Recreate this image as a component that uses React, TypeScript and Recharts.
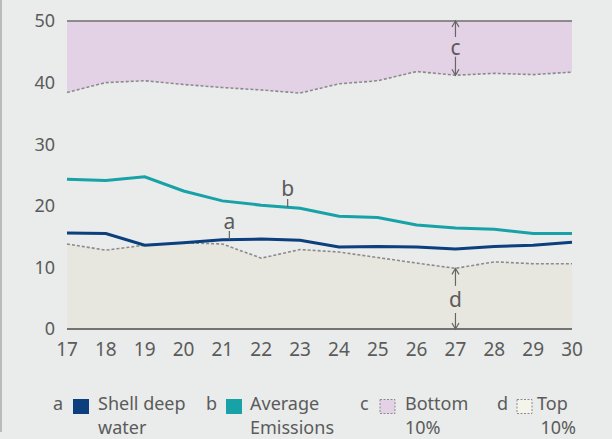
import React from 'react';
import { ComposedChart, Area, Line, XAxis, YAxis, ReferenceLine, ReferenceDot } from 'recharts';

const years = [17, 18, 19, 20, 21, 22, 23, 24, 25, 26, 27, 28, 29, 30];
const shellDeepWater = [15.6, 15.5, 13.6, 14.0, 14.5, 14.6, 14.4, 13.3, 13.4, 13.3, 13.0, 13.4, 13.6, 14.1];
const averageEmissions = [24.3, 24.1, 24.7, 22.4, 20.8, 20.1, 19.6, 18.3, 18.1, 16.9, 16.4, 16.2, 15.5, 15.5];
const bottom10 = [38.4, 40.0, 40.3, 39.7, 39.2, 38.8, 38.3, 39.8, 40.3, 41.8, 41.2, 41.5, 41.3, 41.7];
const top10 = [13.8, 12.8, 13.6, 14.0, 13.8, 11.5, 12.9, 12.5, 11.6, 10.7, 9.85, 10.9, 10.6, 10.6];
const yTicks = [0, 10, 20, 30, 40, 50];
const yMax = 50;

const data = years.map((year, i) => ({
  year,
  a: shellDeepWater[i],
  b: averageEmissions[i],
  bottom: bottom10[i],
  top: top10[i],
  bottomRange: [bottom10[i], yMax],
}));

const NAVY = '#0c3f7d';
const TEAL = '#17a2a7';
const PINK = '#e3d2e6';
const BEIGE = '#e8e7df';
const BG = '#e9ecea';
const TEXT = '#5b5b5b';
const DASH = '#8c8a8c';
const FONT = '"Noto Sans", sans-serif';

const arrowUp = (p: any) => (
  <path d={`M${p.cx - 3.5},${p.cy + 6} L${p.cx},${p.cy} L${p.cx + 3.5},${p.cy + 6}`} fill="none" stroke="#666" strokeWidth={1.2} />
);
const arrowDown = (p: any) => (
  <path d={`M${p.cx - 3.5},${p.cy - 6} L${p.cx},${p.cy} L${p.cx + 3.5},${p.cy - 6}`} fill="none" stroke="#666" strokeWidth={1.2} />
);
const labelShape = (t: string) => (p: any) => (
  <text x={p.cx} y={p.cy} textAnchor="middle" dominantBaseline="central" fontSize={21} fill={TEXT} fontFamily={FONT}>{t}</text>
);

export default function App() {
  const top27 = top10[10];
  const bot27 = bottom10[10];
  return (
    <div style={{ position: 'fixed', left: 0, top: 0, width: 612, height: 439, background: BG, fontFamily: FONT, overflow: 'hidden' }}>
      <div style={{ position: 'absolute', left: 0, top: 0, width: 1.5, height: 432, background: '#b9bbba' }} />
      <ComposedChart width={612} height={439} data={data} margin={{ top: 21, right: 40, bottom: 70, left: 0 }}>
        <XAxis
          dataKey="year"
          type="number"
          domain={[17, 30]}
          ticks={years}
          axisLine={{ stroke: '#737373', strokeWidth: 2 }}
          tickLine={false}
          tickMargin={8}
          height={40}
          tick={{ fill: TEXT, fontSize: 19, fontFamily: FONT }}
          interval={0}
        />
        <YAxis
          type="number"
          domain={[0, yMax]}
          ticks={yTicks}
          axisLine={false}
          tickLine={false}
          tickMargin={6}
          width={67}
          tick={{ fill: TEXT, fontSize: 18, fontFamily: FONT }}
        />
        <Area dataKey="bottomRange" type="linear" fill={PINK} fillOpacity={1} stroke="none" isAnimationActive={false} />
        <Area dataKey="top" type="linear" fill={BEIGE} fillOpacity={1} stroke="none" isAnimationActive={false} />
        <Line dataKey="bottom" type="linear" stroke={DASH} strokeWidth={1.6} strokeDasharray="3 2" dot={false} isAnimationActive={false} />
        <Line dataKey="top" type="linear" stroke={DASH} strokeWidth={1.6} strokeDasharray="3 2" dot={false} isAnimationActive={false} />
        <ReferenceLine y={yMax} stroke="#6e6e6e" strokeWidth={1.5} />
        <Line dataKey="b" type="linear" stroke={TEAL} strokeWidth={3} dot={false} isAnimationActive={false} />
        <Line dataKey="a" type="linear" stroke={NAVY} strokeWidth={3} dot={false} isAnimationActive={false} />

        {/* c annotation */}
        <ReferenceLine segment={[{ x: 27, y: yMax }, { x: 27, y: 47.4 }]} stroke="#666" strokeWidth={1.2} />
        <ReferenceLine segment={[{ x: 27, y: 44.2 }, { x: 27, y: bot27 }]} stroke="#666" strokeWidth={1.2} />
        <ReferenceDot x={27} y={yMax} shape={arrowUp} />
        <ReferenceDot x={27} y={bot27} shape={arrowDown} />
        <ReferenceDot x={27} y={45.8} shape={labelShape('c')} />

        {/* d annotation */}
        <ReferenceLine segment={[{ x: 27, y: top27 }, { x: 27, y: 7.0 }]} stroke="#666" strokeWidth={1.2} />
        <ReferenceLine segment={[{ x: 27, y: 2.6 }, { x: 27, y: 0 }]} stroke="#666" strokeWidth={1.2} />
        <ReferenceDot x={27} y={top27} shape={arrowUp} />
        <ReferenceDot x={27} y={0} shape={arrowDown} />
        <ReferenceDot x={27} y={4.8} shape={labelShape('d')} />

        {/* a / b labels */}
        <ReferenceLine segment={[{ x: 21.18, y: 15.9 }, { x: 21.18, y: 14.55 }]} stroke="#666" strokeWidth={1.2} />
        <ReferenceDot x={21.18} y={17.6} shape={labelShape('a')} />
        <ReferenceLine segment={[{ x: 22.68, y: 21.1 }, { x: 22.68, y: 19.75 }]} stroke="#666" strokeWidth={1.2} />
        <ReferenceDot x={22.68} y={22.9} shape={labelShape('b')} />
      </ComposedChart>

      <svg width={612} height={439} style={{ position: 'absolute', left: 0, top: 0, pointerEvents: 'none' }}>
        <g fontFamily={FONT} fontSize={18} fill={TEXT}>
          <text x={53} y={410}>a</text>
          <rect x={73} y={399} width={16} height={15} fill={NAVY} />
          <text x={98} y={410}>Shell deep</text>
          <text x={98} y={434}>water</text>

          <text x={206} y={410}>b</text>
          <rect x={226} y={399} width={16} height={15} fill={TEAL} />
          <text x={250} y={410}>Average</text>
          <text x={250} y={434}>Emissions</text>

          <text x={360} y={410}>c</text>
          <rect x={380} y={399.5} width={15} height={14} fill={PINK} stroke={DASH} strokeWidth={1} strokeDasharray="2 1.5" />
          <text x={405} y={410}>Bottom</text>
          <text x={405} y={434}>10%</text>

          <text x={497} y={410}>d</text>
          <rect x={517} y={399.5} width={15} height={14} fill="#f5f4ea" stroke={DASH} strokeWidth={1} strokeDasharray="2 1.5" />
          <text x={537} y={410}>Top</text>
          <text x={576} y={434} textAnchor="end">10%</text>
        </g>
      </svg>
    </div>
  );
}
